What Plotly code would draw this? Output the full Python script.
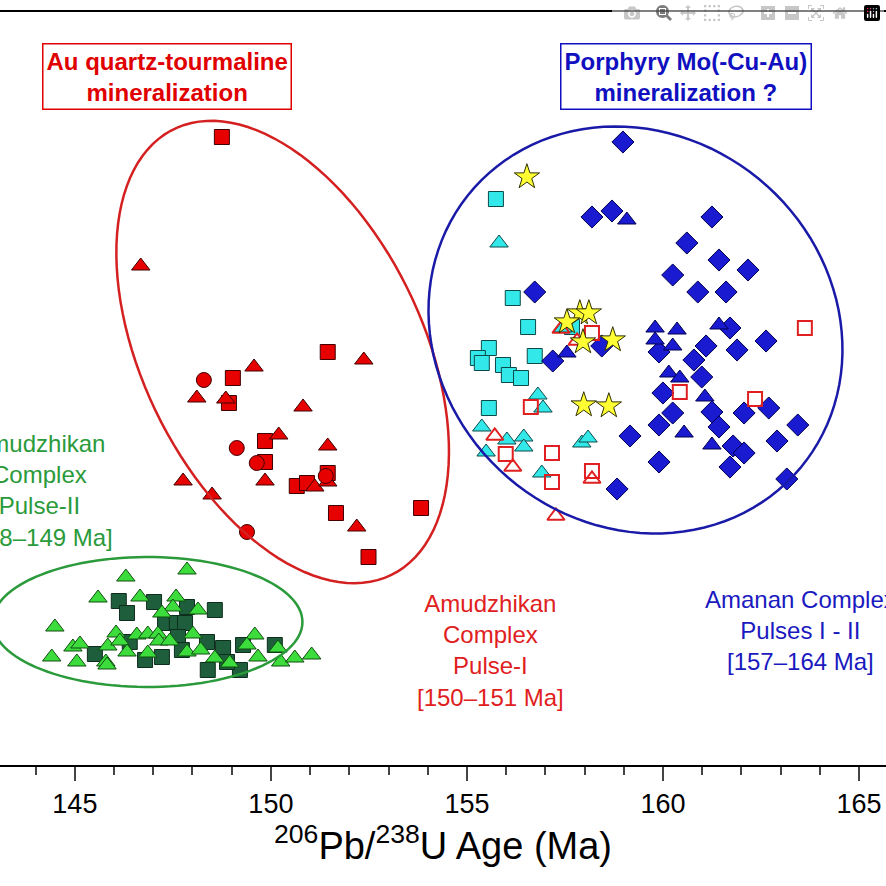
import numpy as np
import plotly.graph_objects as go

# Amudzhikan Pulse-I (red, filled)
red_sq_x = [148.75, 151.45, 149.03, 148.93, 149.85, 149.85, 150.66, 150.92, 151.45, 151.66, 153.83, 152.49]
red_sq_y = [62.8, 41.3, 38.7, 36.2, 32.4, 30.3, 27.9, 28.2, 29.2, 25.2, 25.7, 20.8]
red_tri_x = [146.68, 149.57, 152.37, 148.11, 148.85, 150.82, 150.20, 151.45, 147.76, 148.50, 149.85, 151.12, 151.45, 152.19]
red_tri_y = [49.9, 39.8, 40.5, 36.7, 36.6, 35.8, 33.0, 31.9, 28.4, 27.0, 28.4, 27.8, 28.3, 23.8]
red_ci_x = [148.29, 149.13, 149.64, 151.40, 149.39]
red_ci_y = [38.5, 31.7, 30.2, 28.9, 23.3]

# Amanan complex (blue)
blue_di_x = [158.98, 158.19, 158.70, 161.25, 160.61, 161.43, 160.25, 162.17, 160.89, 161.61, 156.73, 161.71,
             162.63, 161.10, 161.89, 158.44, 157.19, 159.90, 160.79, 160.99, 160.00, 160.25, 161.25, 162.07,
             162.70, 159.90, 161.43, 163.44, 159.16, 162.91, 161.79, 162.07, 159.90, 161.71, 163.16, 158.83]
blue_di_y = [62.3, 54.8, 55.4, 54.8, 52.2, 50.5, 49.0, 49.5, 47.3, 47.3, 47.3, 43.7,
             42.4, 41.9, 41.5, 41.9, 40.4, 41.3, 40.5, 38.8, 37.2, 35.2, 35.3, 35.2,
             35.7, 34.0, 33.8, 34.0, 32.9, 32.4, 31.9, 31.2, 30.3, 29.8, 28.6, 27.6]
blue_tri_x = [159.08, 159.80, 160.36, 161.43, 159.80, 160.25, 157.55, 160.15, 160.43, 161.07, 160.54, 161.25]
blue_tri_y = [54.5, 43.7, 43.5, 44.0, 42.5, 41.9, 41.2, 39.2, 38.7, 36.8, 33.2, 32.0]
cyan_sq_x = [155.74, 156.17, 156.56, 156.73, 155.56, 155.28, 155.38, 155.92, 156.07, 156.38, 155.56, 157.68]
cyan_sq_y = [56.6, 46.7, 43.8, 40.9, 41.7, 40.7, 40.2, 40.0, 39.0, 38.7, 35.7, 43.8]
cyan_tri_x = [155.82, 156.81, 156.94, 155.38, 156.02, 156.45, 156.45, 155.49, 157.93, 158.09, 156.91, 157.45]
cyan_tri_y = [52.2, 37.0, 35.7, 33.8, 32.5, 32.8, 31.8, 31.3, 32.2, 32.7, 29.2, 43.7]
star_x = [156.53, 157.88, 158.11, 157.55, 158.72, 157.96, 157.98, 158.62]
star_y = [58.8, 45.2, 45.2, 44.3, 42.5, 42.3, 36.0, 35.9]
open_sq_x = [158.19, 163.62, 160.43, 162.35, 156.63, 155.99, 157.17, 158.19, 157.17]
open_sq_y = [43.2, 43.7, 37.3, 36.6, 35.8, 31.1, 31.2, 29.4, 28.3]
open_tri_x = [157.40, 157.81, 155.71, 156.17, 158.19, 157.27]
open_tri_y = [43.6, 42.4, 32.9, 29.8, 28.6, 24.9]

# Amudzhikan Pulse-II (green)
dg_sq_x = [146.12, 146.33, 147.02, 147.86, 148.57, 147.30, 147.60, 147.81, 147.63, 146.40, 145.51,
           146.79, 147.22, 147.73, 148.37, 148.78, 149.29, 150.10, 148.39, 149.21, 148.88]
dg_sq_y = [16.4, 15.2, 16.3, 15.8, 15.5, 14.2, 14.2, 14.2, 12.8, 12.3, 11.1,
           10.5, 10.8, 11.5, 12.3, 11.7, 12.0, 12.0, 9.5, 9.5, 10.3]
lg_tri_x = [147.86, 146.30, 145.59, 146.66, 147.58, 147.50, 148.14, 147.22, 144.49, 146.05, 146.58, 146.86,
            147.12, 148.01, 149.59, 144.95, 145.13, 145.84, 146.15, 147.14, 147.42, 149.39, 150.18, 144.41,
            145.05, 145.79, 146.33, 146.86, 147.86, 148.21, 148.57, 148.95, 149.67, 150.25, 150.61, 151.04, 145.82]
lg_tri_y = [19.5, 18.8, 16.7, 16.8, 16.8, 15.8, 15.5, 15.2, 13.8, 13.2, 13.0, 13.1,
            13.1, 13.1, 13.0, 11.8, 12.1, 11.9, 12.4, 12.4, 12.4, 12.0, 11.7, 10.8,
            10.3, 10.3, 11.3, 11.2, 11.3, 11.5, 10.7, 10.2, 10.8, 10.3, 10.7, 11.0, 10.0]

X0, X1 = 143.09, 165.69
PX = 39.2   # pixels per Ma
PY = 10.0   # pixels per y unit


def ellipse_path(cx, cy, a, b, ang):
    # ellipse defined in screen pixels, converted to data units
    t = np.linspace(0, 2 * np.pi, 120)
    r = np.deg2rad(ang)
    px = a * np.cos(t) * np.cos(r) - b * np.sin(t) * np.sin(r)
    py = a * np.cos(t) * np.sin(r) + b * np.sin(t) * np.cos(r)
    xs = cx + px / PX
    ys = cy - py / PY
    return "M " + " L ".join(f"{x:.3f},{y:.3f}" for x, y in zip(xs, ys)) + " Z"


fig = go.Figure()


def add(x, y, symbol, fill, edge, size=15, width=1):
    fig.add_trace(go.Scatter(x=x, y=y, mode="markers", hoverinfo="skip",
                             marker=dict(symbol=symbol, size=size, color=fill,
                                         line=dict(color=edge, width=width))))


add(dg_sq_x, dg_sq_y, "square", "#1f5e3c", "#0d2e1c", 15)
add(lg_tri_x, lg_tri_y, "triangle-up", "#3ddc3d", "#0f4f0f", 16)
add(red_sq_x, red_sq_y, "square", "#e60000", "#400000", 15)
add(red_tri_x, red_tri_y, "triangle-up", "#e60000", "#400000", 16)
add(red_ci_x, red_ci_y, "circle", "#e60000", "#400000", 15)
add(cyan_sq_x, cyan_sq_y, "square", "#33e8e8", "#0c4a4a", 15)
add(cyan_tri_x, cyan_tri_y, "triangle-up", "#33e8e8", "#0c4a4a", 16)
add(blue_di_x, blue_di_y, "diamond", "#1a1ad0", "#000050", 17)
add(blue_tri_x, blue_tri_y, "triangle-up", "#1a1ad0", "#000050", 16)
add(open_sq_x, open_sq_y, "square-open", "#e02020", "#e02020", 14, 2)
add(open_tri_x, open_tri_y, "triangle-up-open", "#e02020", "#e02020", 15, 2)
add(star_x, star_y, "star", "#ffff33", "#303000", 19)

shapes = [
    dict(type="path", path=ellipse_path(150.3, 41.3, 248, 140, 64), line=dict(color="#d42020", width=2.5)),
    dict(type="path", path=ellipse_path(159.3, 43.5, 215, 195, 40), line=dict(color="#1a1aa8", width=2.5)),
    dict(type="path", path=ellipse_path(146.85, 14.3, 155, 65, 0), line=dict(color="#2a9a3a", width=2.5)),
]

ann = [
    dict(x=147.35, y=68.9, text="<b>Au quartz-tourmaline<br>mineralization</b>", font=dict(color="#e00000", size=24),
         bordercolor="#e00000", borderwidth=1.5, borderpad=3, bgcolor="white"),
    dict(x=160.6, y=68.9, text="<b>Porphyry Mo(-Cu-Au)<br>mineralization ?</b>", font=dict(color="#1010c0", size=24),
         bordercolor="#1010c0", borderwidth=1.5, borderpad=3, bgcolor="white"),
    dict(x=144.1, y=27.5, text="Amudzhikan<br>Complex<br>Pulse-II<br>[148–149 Ma]", font=dict(color="#2a9a3a", size=24)),
    dict(x=155.6, y=11.5, text="Amudzhikan<br>Complex<br>Pulse-I<br>[150–151 Ma]", font=dict(color="#e02020", size=24)),
    dict(x=163.5, y=13.5, text="Amanan Complex<br>Pulses I - II<br>[157–164 Ma]", font=dict(color="#1a1ac0", size=24)),
]
for a in ann:
    a.update(xref="x", yref="y", showarrow=False, align="center")

fig.update_layout(
    width=886, height=886, paper_bgcolor="white", plot_bgcolor="white",
    margin=dict(l=0, r=0, t=12, b=121), showlegend=False,
    font=dict(family="Liberation Sans, Arial", color="black"),
    shapes=shapes, annotations=ann,
    xaxis=dict(range=[X0, X1], tickvals=[145, 150, 155, 160, 165], ticks="outside", ticklen=14, tickwidth=2,
               showline=True, linewidth=2, linecolor="black", mirror=True, showgrid=False, zeroline=False,
               tickfont=dict(size=27),
               minor=dict(dtick=1, ticks="outside", ticklen=8, tickwidth=2, showgrid=False),
               title=dict(text="<sup>206</sup>Pb/<sup>238</sup>U Age (Ma)", font=dict(size=38), standoff=6)),
    yaxis=dict(range=[0, 75.3], visible=False),
)

# drop the default page margin so the figure fills the window
post_script = "document.body.style.margin='0'; document.body.style.overflow='hidden';"
fig.write_html("out.html", post_script=post_script)
